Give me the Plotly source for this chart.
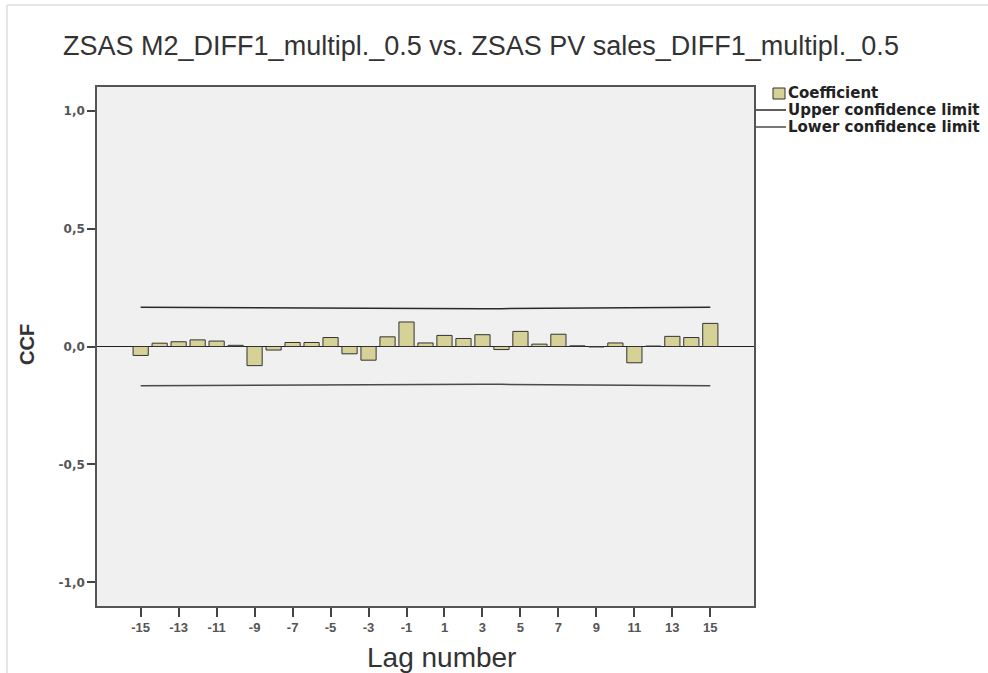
import plotly.graph_objects as go

lags = list(range(-15, 16))
coefficient = [-0.038, 0.014, 0.020, 0.028, 0.023, 0.005, -0.081, -0.015, 0.017, 0.017,
               0.038, -0.031, -0.058, 0.041, 0.104, 0.015, 0.047, 0.034, 0.050, -0.013,
               0.064, 0.010, 0.052, 0.003, -0.002, 0.015, -0.069, 0.002, 0.043, 0.038, 0.098]
upper_limit = [0.166, 0.1655, 0.165, 0.1645, 0.164, 0.1635, 0.163, 0.1625, 0.162, 0.1615,
               0.161, 0.1605, 0.160, 0.1595, 0.159, 0.1588, 0.159, 0.1595, 0.160, 0.1605,
               0.161, 0.1615, 0.162, 0.1625, 0.163, 0.1635, 0.164, 0.1645, 0.165, 0.1655, 0.166]
lower_limit = [-v for v in upper_limit]
y_tick_vals = [-1.0, -0.5, 0.0, 0.5, 1.0]
y_tick_labels = ["-1,0", "-0,5", "0,0", "0,5", "1,0"]
x_tick_vals = list(range(-15, 16, 2))
x_tick_labels = [str(v) for v in x_tick_vals]

title_text = "ZSAS M2_DIFF1_multipl._0.5 vs. ZSAS PV sales_DIFF1_multipl._0.5"
legend_names = ["Coefficient", "Upper confidence limit", "Lower confidence limit"]

BAR_FILL = "#D6D197"
BAR_LINE = "#333333"
UPPER_COLOR = "#2a2a2a"
LOWER_COLOR = "#4a4a4a"

# plot-area geometry in pixels (for placing the hand-drawn legend and titles)
W, H = 988, 673
L, R, T, B = 97, 234, 87, 67
PW, PH = W - L - R, H - T - B


def px(x):
    return (x - L) / PW


def py(y):
    return (H - B - y) / PH


fig = go.Figure()
fig.add_trace(go.Bar(x=lags, y=coefficient, name=legend_names[0], showlegend=False,
                     marker=dict(color=BAR_FILL, line=dict(color=BAR_LINE, width=1))))
fig.add_trace(go.Scatter(x=lags, y=upper_limit, name=legend_names[1], mode="lines", showlegend=False,
                         line=dict(color=UPPER_COLOR, width=1.5)))
fig.add_trace(go.Scatter(x=lags, y=lower_limit, name=legend_names[2], mode="lines", showlegend=False,
                         line=dict(color=LOWER_COLOR, width=1.5)))

x_tick_font = dict(family="Liberation Sans, Arial", size=13, color="#555555", weight="bold")
y_tick_font = dict(family="DejaVu Sans, Liberation Sans", size=12, color="#555555", weight="bold")

fig.update_layout(
    width=W, height=H,
    margin=dict(l=L, r=R, t=T, b=B),
    paper_bgcolor="white", plot_bgcolor="#F0F0F0",
    bargap=0.2,
    showlegend=False,
    title=dict(text=title_text, x=481 / W, xref="container", xanchor="center",
               y=1 - 46 / H, yref="container", yanchor="middle",
               font=dict(family="Liberation Sans, Arial", size=27, color="#333333")),
    xaxis=dict(range=[-17.3, 17.3], tickvals=x_tick_vals, ticktext=x_tick_labels,
               ticks="outside", ticklen=9, tickwidth=1.5, tickcolor="#444",
               tickfont=x_tick_font,
               showline=True, linecolor="#555555", linewidth=1.5, mirror=True,
               showgrid=False, zeroline=False),
    yaxis=dict(range=[-1.1, 1.1], tickvals=y_tick_vals, ticktext=y_tick_labels,
               ticks="outside", ticklen=8, tickwidth=1.5, tickcolor="#444",
               tickfont=y_tick_font,
               showline=True, linecolor="#555555", linewidth=1.5, mirror=True,
               showgrid=False, zeroline=True, zerolinecolor="#222222", zerolinewidth=1.2),
)

# axis titles
fig.add_annotation(text="Lag number", xref="paper", yref="paper", x=px(441), y=py(657),
                   xanchor="center", yanchor="middle", showarrow=False,
                   font=dict(family="Liberation Sans, Arial", size=28, color="#333333"))
fig.add_annotation(text="<b>CCF</b>", xref="paper", yref="paper", x=px(27), y=py(345),
                   xanchor="center", yanchor="middle", showarrow=False, textangle=-90,
                   font=dict(family="Liberation Sans, Arial", size=20, color="#333333"))

# hand-drawn legend
legend_font = dict(family="DejaVu Sans, Liberation Sans", size=15, color="#222222", weight="bold")
rows_y = [93, 110, 127]
for name, yy in zip(legend_names, rows_y):
    fig.add_annotation(text=name, xref="paper", yref="paper", x=px(786), y=py(yy),
                       xanchor="left", yanchor="middle", showarrow=False, font=legend_font)
fig.add_shape(type="rect", xref="paper", yref="paper",
              x0=px(773), x1=px(785), y0=py(99), y1=py(88),
              fillcolor=BAR_FILL, line=dict(color=BAR_LINE, width=1))
fig.add_shape(type="line", xref="paper", yref="paper", x0=px(756), x1=px(786),
              y0=py(110), y1=py(110), line=dict(color=UPPER_COLOR, width=1.5))
fig.add_shape(type="line", xref="paper", yref="paper", x0=px(756), x1=px(786),
              y0=py(127), y1=py(127), line=dict(color=LOWER_COLOR, width=1.5))

# light outer frame of the original output window
fig.add_shape(type="line", xref="paper", yref="paper", x0=px(7), x1=px(7), y0=py(H + 5), y1=py(5),
              line=dict(color="#DDDDDD", width=1.5))
fig.add_shape(type="line", xref="paper", yref="paper", x0=px(7), x1=px(W + 5), y0=py(5), y1=py(5),
              line=dict(color="#DDDDDD", width=1.5))

fig.write_html("out.html")
